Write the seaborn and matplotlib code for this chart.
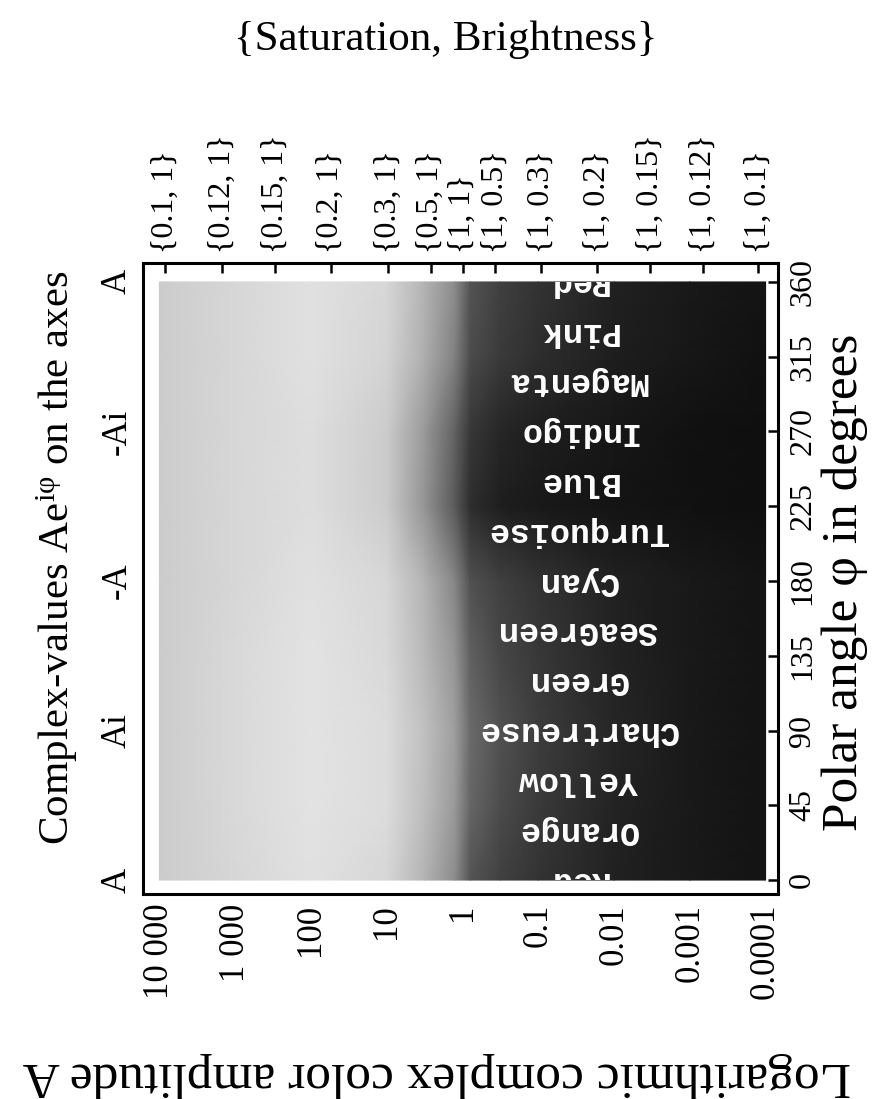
import numpy as np
import matplotlib
matplotlib.use('Agg')
import matplotlib.pyplot as plt
import seaborn as sns
from matplotlib.patches import Rectangle

sns.set_theme(style='white')
plt.rcParams['font.family'] = ['Liberation Serif', 'DejaVu Serif']
plt.rcParams['mathtext.fontset'] = 'custom'
plt.rcParams['mathtext.rm'] = 'Liberation Serif'
plt.rcParams['mathtext.it'] = 'Liberation Serif:italic'
for k in ['text.color', 'axes.labelcolor', 'xtick.color', 'ytick.color', 'axes.edgecolor']:
    plt.rcParams[k] = 'black'

# log10 of amplitude (columns) and polar angle (rows) of the gray table
log_amp = [4, 3, 2, 1, 0.5, 0.1, -0.1, -0.5, -1, -2, -3, -4]
hue_deg = [0, 45, 90, 135, 180, 225, 270, 315, 360]
# gray level (0 black, 1 white)
gray = [
    [.80, .84, .88, .84, .70, .55, .33, .25, .20, .13, .10, .08],
    [.80, .85, .89, .86, .74, .60, .40, .30, .23, .14, .10, .08],
    [.80, .85, .89, .86, .75, .62, .42, .32, .24, .15, .10, .08],
    [.80, .85, .89, .85, .72, .58, .38, .28, .22, .14, .10, .08],
    [.80, .84, .88, .84, .70, .52, .32, .25, .20, .13, .10, .08],
    [.80, .84, .87, .80, .58, .35, .18, .12, .10, .08, .07, .06],
    [.80, .84, .87, .80, .60, .38, .22, .15, .12, .09, .07, .06],
    [.80, .84, .88, .83, .68, .50, .30, .23, .18, .12, .09, .07],
    [.80, .84, .88, .84, .70, .55, .33, .25, .20, .13, .10, .08],
]

amp_ticks = [4, 3, 2, 1, 0, -1, -2, -3, -4]
amp_labels = ['10 000', '1 000', '100', '10', '1', '0.1', '0.01', '0.001', '0.0001']
angle_ticks = [0, 45, 90, 135, 180, 225, 270, 315, 360]
complex_ticks = [0, 90, 180, 270, 360]
complex_labels = ['A', 'Ai', '-A', '-Ai', 'A']
sb_pos = [3.92, 3.17, 2.47, 1.74, 0.98, 0.42, 0.0, -0.43, -1.04, -1.78, -2.48, -3.18, -3.9]
sb_labels = ['{0.1, 1}', '{0.12, 1}', '{0.15, 1}', '{0.2, 1}', '{0.3, 1}', '{0.5, 1}', '{1, 1}',
             '{1, 0.5}', '{1, 0.3}', '{1, 0.2}', '{1, 0.15}', '{1, 0.12}', '{1, 0.1}']
color_names = ['Red', 'Orange', 'Yellow', 'Chartreuse', 'Green', 'SeaGreen', 'Cyan',
               'Turquoise', 'Blue', 'Indigo', 'Magenta', 'Pink', 'Red']
color_angles = [0, 30, 60, 90, 120, 150, 180, 210, 240, 270, 300, 330, 360]
name_amp = -1.52

fig = plt.figure(figsize=(8.94, 10.99), dpi=100)
ax = fig.add_axes([0.1605, 0.1865, 0.7103, 0.5742])

X, Y = np.meshgrid(log_amp, hue_deg)
ax.pcolormesh(X, Y, np.array(gray), shading='gouraud', cmap='gray', vmin=0, vmax=1)
ax.set_xlim(4.21, -4.17)
ax.set_ylim(-8.4, 371.4)

# colour names are clipped to the shaded area
clip = Rectangle((log_amp[-1], hue_deg[0]), log_amp[0] - log_amp[-1], hue_deg[-1] - hue_deg[0],
                 transform=ax.transData, fill=False, visible=False)
ax.add_patch(clip)
for name, ang in zip(color_names, color_angles):
    t = ax.text(name_amp, ang, name, rotation=180, ha='center', va='center', color='white',
                family='Liberation Mono', fontweight='bold', fontsize=24, clip_on=True)
    t.set_clip_path(clip)

for s in ax.spines.values():
    s.set_linewidth(2.2)

tick_kw = dict(direction='in', length=7, width=1.8, color='black')
ax.set_xticks(amp_ticks)
ax.set_xticklabels(amp_labels, rotation=90, fontsize=25)
ax.set_yticks(complex_ticks)
ax.set_yticklabels(complex_labels, rotation=90, fontsize=25, va='center')
ax.tick_params(axis='both', pad=7, **tick_kw)

top = ax.secondary_xaxis('top', functions=(lambda v: v, lambda v: v))
top.set_xticks(sb_pos)
top.set_xticklabels(sb_labels, rotation=90, fontsize=23)
top.tick_params(pad=7, **tick_kw)

right = ax.secondary_yaxis('right', functions=(lambda v: v, lambda v: v))
right.set_yticks(angle_ticks)
right.set_yticklabels([str(a) for a in angle_ticks], rotation=90, fontsize=23, va='center')
right.tick_params(pad=7, **tick_kw)

fig.text(0.498, 1 - 40 / 1099, '{Saturation, Brightness}', ha='center', va='center', fontsize=31)
fig.text(57 / 894, 1 - 558 / 1099, r'Complex-values Ae$^{\mathrm{i\varphi}}$ on the axes',
         rotation=90, ha='center', va='center', fontsize=31)
fig.text(845 / 894, 1 - 582 / 1099, 'Polar angle φ in degrees',
         rotation=90, ha='center', va='center', fontsize=37)
fig.text(437 / 894, 1 - 1075 / 1099, 'Logarithmic complex color amplitude A',
         rotation=180, ha='center', va='center', fontsize=37)

fig.savefig('out.png', dpi=100)
